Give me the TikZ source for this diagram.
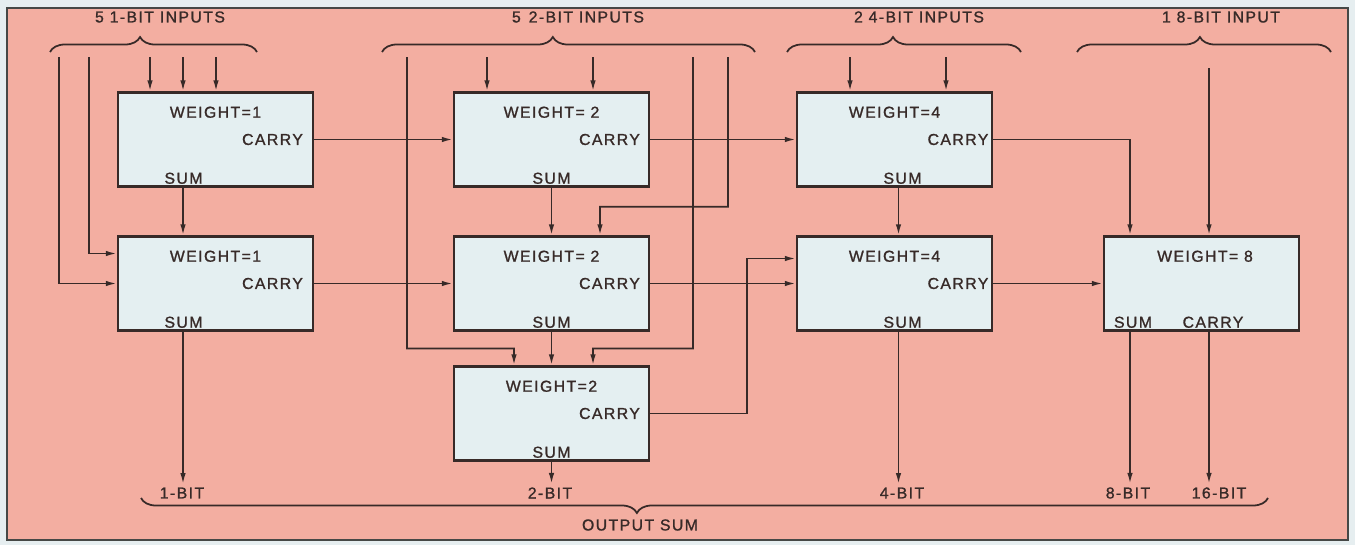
\documentclass[tikz,border=0pt]{standalone}
\usepackage{fontspec}
\newfontfamily\leroy{Liberation Sans}[LetterSpace=9, FakeBold=1.2]
\usepackage{tikz}
\usetikzlibrary{arrows.meta,positioning,calc,decorations.pathreplacing}
\definecolor{panelpink}{RGB}{243,174,161}
\definecolor{boxblue}{RGB}{228,239,241}
\definecolor{margin}{RGB}{230,238,240}
\definecolor{frame}{RGB}{70,72,70}
\definecolor{ink}{RGB}{55,42,40}
\tikzset{
  addbox/.style={draw=ink, line width=1.4pt, fill=boxblue, inner sep=0pt,
                 minimum width=3.9cm, minimum height=1.88cm},
  lbl/.style={text=ink, inner sep=0pt, font=\leroy\fontsize{9}{11}\selectfont},
  outlbl/.style={lbl, inner sep=1.8pt},
  wire/.style={draw=ink, line width=1pt},
  bracket/.style={draw=ink, line width=1pt, decorate,
                  decoration={brace, amplitude=0.3cm, aspect=#1}},
  bracket/.default=0.5,
}
\newcommand{\adder}[5]{%
  \node[addbox] (#1) at (#2) {};
  \node[lbl] (#1w) at ([yshift=-0.42cm]#1.north) {#3};
  \node[lbl, anchor=east] (#1c) at ([xshift=-#5]#1.east) {CARRY};
  \node[lbl, anchor=south] (#1s) at ([xshift=#4, yshift=0.07cm]#1.south) {SUM};
}

\begin{document}
\begin{tikzpicture}[>={Latex[length=0.22cm,width=0.11cm]}]
    \fill[margin] (0,0) rectangle (27.1,10.9);
    \draw[line width=1.2pt, draw=frame, fill=panelpink] (0.14,0.1) rectangle (26.96,10.74);

    % adders
    \adder{w1a}{4.31,8.11}{WEIGHT=1}{-0.64cm}{0.22cm}
    \adder{w1b}{4.31,5.23}{WEIGHT=1}{-0.64cm}{0.22cm}
    \adder{w2a}{11.03,8.11}{WEIGHT= 2}{0cm}{0.2cm}
    \adder{w2b}{11.03,5.23}{WEIGHT= 2}{0cm}{0.2cm}
    \adder{w2c}{11.03,2.63}{WEIGHT=2}{0cm}{0.2cm}
    \adder{w4a}{17.89,8.11}{WEIGHT=4}{0.16cm}{0.09cm}
    \adder{w4b}{17.89,5.23}{WEIGHT=4}{0.16cm}{0.09cm}
    \node[addbox] (w8) at (24.03,5.23) {};
    \node[lbl] (w8w) at ([xshift=0.07cm, yshift=-0.42cm]w8.north) {WEIGHT= 8};
    \node[lbl, anchor=south] (w8s) at ([xshift=-1.37cm, yshift=0.07cm]w8.south) {SUM};
    \node[lbl, anchor=south] (w8c) at ([xshift=0.23cm, yshift=0.07cm]w8.south) {CARRY};

    % inputs
    \draw[bracket=0.435] (1.0,9.86) -- (5.14,9.86);
    \draw[bracket=0.458] (7.64,9.86) -- (15.1,9.86);
    \draw[bracket=0.453] (15.74,9.86) -- (20.42,9.86);
    \draw[bracket=0.484] (21.54,9.86) -- (26.62,9.86);
    \node[lbl] (t1) at (3.2,10.56) {5 1-BIT INPUTS};
    \node[lbl] (t2) at (11.56,10.56) {5\enspace 2-BIT INPUTS};
    \node[lbl] (t4) at (18.38,10.56) {2 4-BIT INPUTS};
    \node[lbl] (t8) at (24.42,10.56) {1 8-BIT INPUT};

    \coordinate (i1a) at (1.18,9.76);
    \coordinate (i1b) at (1.78,9.76);
    \coordinate (i1c) at (3.0,9.76);
    \coordinate (i1d) at (3.66,9.76);
    \coordinate (i1e) at (4.32,9.76);
    \coordinate (i2a) at (8.14,9.76);
    \coordinate (i2b) at (9.74,9.76);
    \coordinate (i2c) at (11.86,9.76);
    \coordinate (i2d) at (13.86,9.76);
    \coordinate (i2e) at (14.56,9.76);
    \coordinate (i4a) at (17.0,9.76);
    \coordinate (i4b) at (18.92,9.76);
    \coordinate (i8) at (24.18,9.54);
    \coordinate (j1) at ($(w2a.south)!0.4!(w2b.north)$);
    \coordinate (j2) at ($(w2b.south)!0.5!(w2c.north)$);

    \foreach \c in {i1c,i1d,i1e} \draw[wire,->] (\c) -- (\c |- w1a.north);
    \draw[wire,->] (i1a) |- (w1b.west);
    \draw[wire,->] (i1b) |- ([yshift=0.6cm]w1b.west);
    \foreach \c in {i2b,i2c} \draw[wire,->] (\c) -- (\c |- w2a.north);
    \draw[wire,->] (i2e) |- ([xshift=0.97cm]j1) -- ([xshift=0.97cm]w2b.north);
    \draw[wire,->] (i2a) |- ([xshift=-0.75cm]j2) -- ([xshift=-0.75cm]w2c.north);
    \draw[wire,->] (i2d) |- ([xshift=0.83cm]j2) -- ([xshift=0.83cm]w2c.north);
    \foreach \c in {i4a,i4b} \draw[wire,->] (\c) -- (\c |- w4a.north);
    \draw[wire,->] (i8) -- (i8 |- w8.north);

    % sums and carries
    \draw[wire,->] ([xshift=-0.65cm]w1a.south) -- ([xshift=-0.65cm]w1b.north);
    \draw[wire,->] (w2a.south) -- (w2b.north);
    \draw[wire,->] (w2b.south) -- (w2c.north);
    \draw[wire,->] ([xshift=0.08cm]w4a.south) -- ([xshift=0.08cm]w4b.north);
    \draw[wire,->] (w1a.east) -- (w2a.west);
    \draw[wire,->] (w1b.east) -- (w2b.west);
    \draw[wire,->] (w2a.east) -- (w4a.west);
    \draw[wire,->] (w2b.east) -- (w4b.west);
    \draw[wire,->] (w2c.east) -- ++(1.93,0) |- ([yshift=0.5cm]w4b.west);
    \draw[wire,->] (w4a.east) -| ([xshift=-1.43cm]w8.north);
    \draw[wire,->] (w4b.east) -- (w8.west);

    % outputs
    \node[outlbl] (o1) at (3.64,1.04) {1-BIT};
    \node[outlbl] (o2) at (11.0,1.04) {2-BIT};
    \node[outlbl] (o4) at (18.04,1.04) {4-BIT};
    \node[outlbl] (o8) at (22.56,1.04) {8-BIT};
    \node[outlbl] (o16) at (24.38,1.04) {16-BIT};
    \draw[wire,->] ([xshift=-0.65cm]w1b.south) -- ([xshift=-0.65cm]w1b.south |- o1.north);
    \draw[wire,->] (w2c.south) -- (w2c.south |- o2.north);
    \draw[wire,->] ([xshift=0.08cm]w4b.south) -- ([xshift=0.08cm]w4b.south |- o4.north);
    \draw[wire,->] ([xshift=-1.43cm]w8.south) -- ([xshift=-1.43cm]w8.south |- o8.north);
    \draw[wire,->] ([xshift=0.15cm]w8.south) -- ([xshift=0.15cm]w8.south |- o16.north);
    \draw[bracket=0.56] (25.36,0.94) -- (2.82,0.94);
    \node[lbl] (tout) at (12.8,0.40) {OUTPUT SUM};
\end{tikzpicture}
\end{document}
